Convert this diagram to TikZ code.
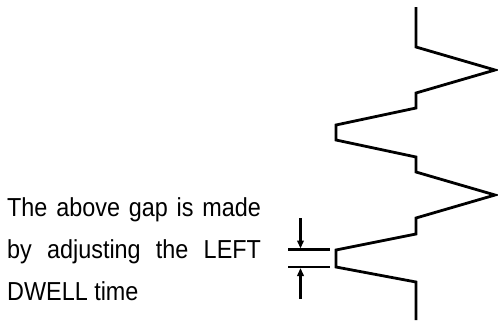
\documentclass[tikz,border=0pt]{standalone}
\usepackage{fontspec}
\setmainfont{Liberation Sans}
\usetikzlibrary{arrows.meta}
\begin{document}
\begin{tikzpicture}[x=1pt,y=-1pt,
  wave/.style={line width=2.8pt,line join=miter},
  gapline/.style={line width=2.4pt},
  gaparrow/.style={line width=2.2pt,-{Triangle[length=8pt,width=6.5pt]}},
  label/.style={font=\fontsize{26}{42}\selectfont,inner sep=0pt,anchor=base west,xscale=0.9}]
\useasboundingbox (0,0) rectangle (498,322);
% zigzag
\coordinate (w0) at (416,7);
\coordinate (w1) at (416,47);
\coordinate (w2) at (495,70);
\coordinate (w3) at (416,93);
\coordinate (w4) at (416,108);
\coordinate (w5) at (336,125);
\coordinate (w6) at (336,140);
\coordinate (w7) at (416,157);
\coordinate (w8) at (416,172);
\coordinate (w9) at (495,195);
\coordinate (w10) at (416,218);
\coordinate (w11) at (416,234);
\coordinate (w12) at (336,250);
\coordinate (w13) at (336,267);
\coordinate (w14) at (416,282);
\coordinate (w15) at (416,320);
\draw[wave] (w0) -- (w1) -- (w2) -- (w3) -- (w4) -- (w5) -- (w6) -- (w7) -- (w8)
  -- (w9) -- (w10) -- (w11) -- (w12) -- (w13) -- (w14) -- (w15);
% gap marker
\coordinate (g1a) at (288,249.5);
\coordinate (g1b) at (330,249.5);
\coordinate (g2a) at (288,267);
\coordinate (g2b) at (330,267);
\draw[gapline] (g1a) -- (g1b);
\draw[gapline] (g2a) -- (g2b);
\coordinate (a1s) at (300.5,218);
\coordinate (a1e) at (300.5,248.5);
\coordinate (a2s) at (300.5,299);
\coordinate (a2e) at (300.5,268);
\draw[gaparrow] (a1s) -- (a1e);
\draw[gaparrow] (a2s) -- (a2e);
% text
\node[label] (t1) at (7,216) {\makebox[282pt][s]{The above gap is made}};
\node[label] (t2) at (7,258) {\makebox[282pt][s]{by adjusting the LEFT}};
\node[label] (t3) at (7,300) {DWELL time};
\end{tikzpicture}
\end{document}
